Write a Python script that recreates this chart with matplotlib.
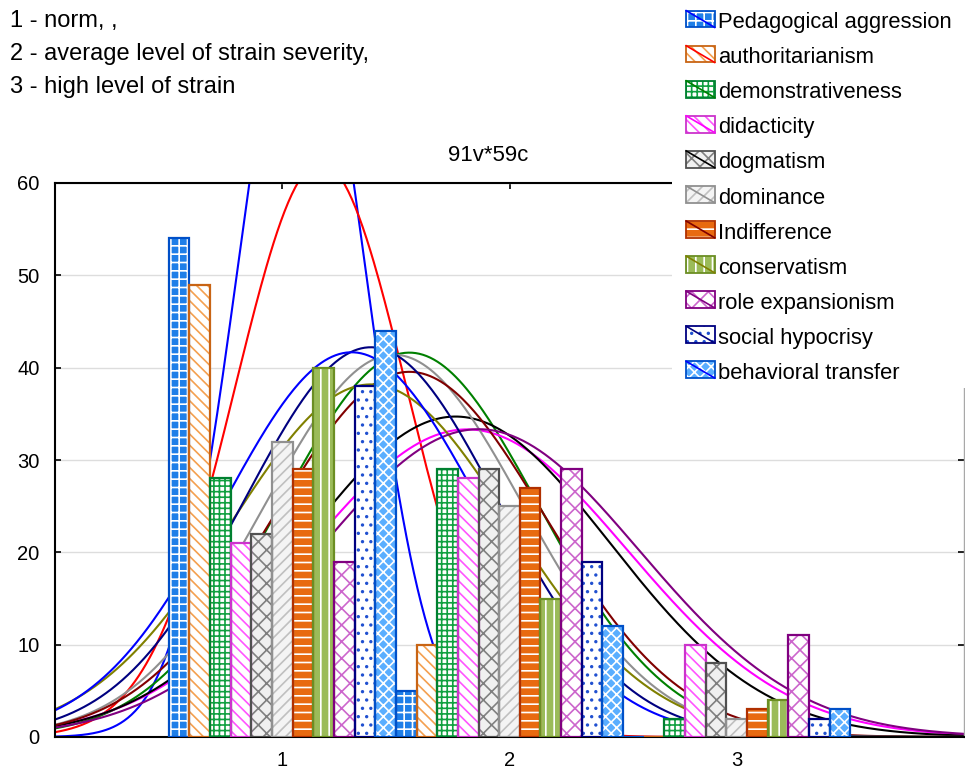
import numpy as np
import matplotlib
matplotlib.use("Agg")
import matplotlib.pyplot as plt
from matplotlib.patches import Rectangle
from matplotlib.lines import Line2D

plt.rcParams['font.family'] = ['Liberation Sans', 'DejaVu Sans']
plt.rcParams['hatch.linewidth'] = 1.2

# data: counts of subjects at level 1, 2, 3 for each scale
levels = [1, 2, 3]
names = ['Pedagogical aggression', 'authoritarianism', 'demonstrativeness', 'didacticity',
         'dogmatism', 'dominance', 'Indifference', 'conservatism', 'role expansionism',
         'social hypocrisy', 'behavioral transfer']
counts = [
    [54, 5, 0],
    [49, 10, 0],
    [28, 29, 2],
    [21, 28, 10],
    [22, 29, 8],
    [32, 25, 2],
    [29, 27, 3],
    [40, 15, 4],
    [19, 29, 11],
    [38, 19, 2],
    [44, 12, 3],
]
notes = ['1 - norm, ,', '2 - average level of strain severity,', '3 - high level of strain']
title = '91v*59c'

# styles: face, hatch colour, hatch, border, curve colour
styles = [
    ('#1f7fe8', 'white', '++', '#0050c8', '#0000ff'),
    ('white', '#f4a050', '\\\\\\', '#c86414', '#ff0000'),
    ('white', '#10a040', '+++', '#008030', '#008000'),
    ('white', '#ff55ff', '\\\\\\', '#cc33cc', '#ff00ff'),
    ('#f0f0f0', '#808080', 'xx', '#505050', '#000000'),
    ('#f4f4f4', '#c0c0c0', '///', '#909090', '#909090'),
    ('#e86a10', 'white', '--', '#b03000', '#800000'),
    ('#9bbb59', 'white', '||', '#6b8e23', '#808000'),
    ('white', '#cc66cc', 'xx', '#800080', '#800080'),
    ('white', '#2050d0', '..', '#000080', '#000080'),
    ('#5aaeff', 'white', 'xxx', '#0050c8', '#0000ff'),
]


class LegendKey:
    def __init__(self, st):
        self.st = st


class KeyHandler:
    def legend_artist(self, legend, orig_handle, fontsize, handlebox):
        face, hc, hatch, edge, lc = orig_handle.st
        x0, y0 = handlebox.xdescent, handlebox.ydescent
        w, h = handlebox.width, handlebox.height
        tr = handlebox.get_transform()
        r1 = Rectangle((x0, y0), w, h, facecolor=face, edgecolor=hc, hatch=hatch, lw=0, transform=tr)
        r2 = Rectangle((x0, y0), w, h, fill=False, edgecolor=edge, lw=1.3, transform=tr)
        ln = Line2D([x0, x0 + w], [y0 + h, y0], color=lc, lw=1.2, transform=tr)
        handlebox.add_artist(r1)
        handlebox.add_artist(r2)
        handlebox.add_artist(ln)
        return r2


fig = plt.figure(figsize=(9.65, 7.74), dpi=100)
ax = fig.add_axes([55 / 965, 1 - 737 / 774, 909 / 965, 554 / 774])

nser = len(names)
w = 1.0 / nser
lev = np.array(levels, dtype=float)
xs = np.linspace(0, 4, 500)

# fitted normal curves (behind the bars)
for i, c in enumerate(counts):
    c = np.array(c, dtype=float)
    n = c.sum()
    m = (c * lev).sum() / n
    sd = np.sqrt((c * (lev - m) ** 2).sum() / (n - 1))
    y = n * np.exp(-0.5 * ((xs - m) / sd) ** 2) / (sd * np.sqrt(2 * np.pi))
    ax.plot(xs, y, color=styles[i][4], lw=1.5, zorder=2)

handles = []
for i, c in enumerate(counts):
    face, hc, hatch, edge, lc = styles[i]
    pos = np.array(levels) + (i - (nser - 1) / 2) * w
    ax.bar(pos, c, width=w, facecolor=face, edgecolor=hc, hatch=hatch, lw=0, zorder=3)
    ax.bar(pos, c, width=w, fill=False, edgecolor=edge, lw=1.6, zorder=4)
    handles.append(LegendKey(styles[i]))

ax.set_xlim(0, 4)
ax.set_ylim(0, 60)
ax.set_xticks(levels)
ax.set_yticks(range(0, 61, 10))
ax.tick_params(direction='in', length=4, width=1.2, labelsize=14.5, top=True, right=True)
ax.tick_params(axis='y', pad=11)
ax.tick_params(axis='x', pad=10)
ax.yaxis.grid(True, color='#dddddd', lw=1)
ax.set_axisbelow(True)
for s in ['left', 'bottom', 'top']:
    ax.spines[s].set_linewidth(1.5)
ax.spines['right'].set_color('#a8a8a8')
ax.spines['right'].set_linewidth(1.0)
ax.text(0.477, 1.03, title, transform=ax.transAxes, ha='center', va='bottom', fontsize=16)

for k, t in enumerate(notes):
    fig.text(10 / 965, 1 - (21 + 33 * k) / 774, t, ha='left', va='center', fontsize=17)

# white area behind the legend, as in the source chart
fig.add_artist(Rectangle((672 / 965, 1 - 388 / 774), 293 / 965, 388 / 774,
                         transform=fig.transFigure, facecolor='white', edgecolor='none', zorder=1))

leg = fig.legend(handles, names, handler_map={LegendKey: KeyHandler()},
                 loc='upper left', bbox_to_anchor=(673 / 965, 1 + 1 / 774),
                 fontsize=15.8, frameon=False, borderpad=0.1, labelspacing=0.64,
                 handlelength=1.3, handleheight=0.8, handletextpad=0.15)
leg.set_zorder(5)

fig.savefig('out.png', dpi=100)
